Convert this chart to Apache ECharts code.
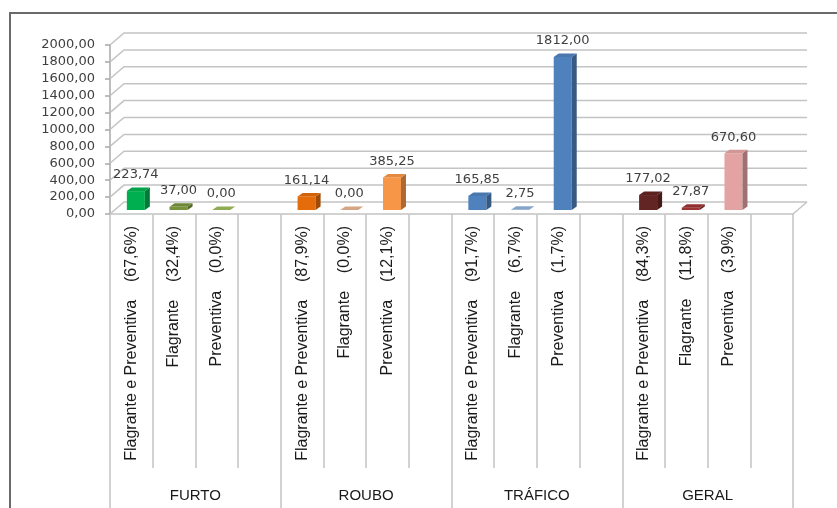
<!DOCTYPE html>
<html>
<head>
<meta charset="utf-8">
<script src="https://cdn.jsdelivr.net/npm/echarts@6/dist/echarts.min.js"></script>
<style>
  html, body { margin: 0; padding: 0; background: #fff; }
  #chart { width: 837px; height: 508px; }
</style>
</head>
<body>
<div id="chart"></div>
<script>
// Crime groups and the three detention types in each (fourth slot is a spacer)
const groups = ['FURTO', 'ROUBO', 'TRÁFICO', 'GERAL'];
const categories = [
  'Flagrante e Preventiva    (67,6%)', 'Flagrante    (32,4%)', 'Preventiva    (0,0%)', '',
  'Flagrante e Preventiva    (87,9%)', 'Flagrante    (0,0%)', 'Preventiva    (12,1%)', '',
  'Flagrante e Preventiva    (91,7%)', 'Flagrante    (6,7%)', 'Preventiva    (1,7%)', '',
  'Flagrante e Preventiva    (84,3%)', 'Flagrante    (11,8%)', 'Preventiva    (3,9%)', ''
];
const furto   = [223.74, 37.00, 0.00];
const roubo   = [161.14, 0.00, 385.25];
const trafico = [165.85, 2.75, 1812.00];
const geral   = [177.02, 27.87, 670.60];
const yTicks  = [0, 200, 400, 600, 800, 1000, 1200, 1400, 1600, 1800, 2000];

// Fill colours, one per bar (group order, then type order)
const barColors = [
  '#00b050', '#77933c', '#9bbb59',
  '#e46c0a', '#e8b48e', '#f79646',
  '#4f81bd', '#8fb2dc', '#4f81bd',
  '#632523', '#9b3432', '#e3a3a2'
];

const groupValues = [furto, roubo, trafico, geral];
const barData = [];
groupValues.forEach((vals, g) => {
  vals.forEach((v, k) => barData.push([g * 4 + k, v, g * 3 + k]));
});

const fmt = v => v.toFixed(2).replace('.', ',');

function shade(hex, amt) {
  const n = parseInt(hex.slice(1), 16);
  let r = (n >> 16) & 255, g = (n >> 8) & 255, b = n & 255;
  const f = c => amt < 0 ? Math.round(c * (1 + amt)) : Math.round(c + (255 - c) * amt);
  return 'rgb(' + f(r) + ',' + f(g) + ',' + f(b) + ')';
}

// Depth of the back wall relative to the front plane
const WALL_DX = 14, WALL_DY = -12;
const GRID_COLOR = '#c4c4c4';

function renderWall(params, api) {
  const v = api.value(1);
  const cs = params.coordSys;
  const y = api.coord([0, v])[1];
  const x0 = cs.x, x1 = cs.x + cs.width;
  const children = [{
    type: 'polyline',
    shape: { points: [[x0, y], [x0 + WALL_DX, y + WALL_DY], [x1 + WALL_DX, y + WALL_DY]] },
    style: { stroke: GRID_COLOR, lineWidth: 1.5, fill: null }
  }];
  if (v === 0) {
    children.push({
      type: 'line',
      shape: { x1: x1, y1: y, x2: x1 + WALL_DX, y2: y + WALL_DY },
      style: { stroke: GRID_COLOR, lineWidth: 1.5 }
    });
  }
  return { type: 'group', children: children };
}

// 3D-looking column: front face, right side and top
function renderBar(params, api) {
  const idx = api.value(0), val = api.value(1), ci = api.value(2);
  const top = api.coord([idx, val]);
  const base = api.coord([idx, 0]);
  const w = 18, sx = 4.5, sy = -4, dx = 5, dy = -3.5;
  const x = top[0] + sx - w / 2;
  const yT = top[1] + sy, yB = base[1] + sy;
  const c = barColors[ci];
  return {
    type: 'group',
    children: [
      { type: 'polygon', shape: { points: [[x, yT], [x + w, yT], [x + w, yB], [x, yB]] }, style: { fill: c } },
      { type: 'polygon', shape: { points: [[x + w, yT], [x + w + dx, yT + dy], [x + w + dx, yB + dy], [x + w, yB]] }, style: { fill: shade(c, -0.3) } },
      { type: 'polygon', shape: { points: [[x, yT], [x + dx, yT + dy], [x + w + dx, yT + dy], [x + w, yT]] }, style: { fill: shade(c, -0.08) } },
      {
        type: 'text',
        style: {
          text: fmt(val), x: top[0] + sx, y: yT - 16,
          align: 'center', verticalAlign: 'middle',
          font: '13px "DejaVu Sans"', fill: '#404040'
        }
      }
    ]
  };
}

const LABEL_FONT = '"Liberation Sans", Arial, sans-serif';

const chart = echarts.init(document.getElementById('chart'), null, { renderer: 'canvas' });
chart.setOption({
  animation: false,
  backgroundColor: '#fff',
  graphic: [{
    type: 'rect',
    shape: { x: 10, y: 13, width: 900, height: 600 },
    style: { fill: null, stroke: '#6a6a6a', lineWidth: 2 },
    z: 100
  }],
  grid: { left: 110, top: 45, width: 683, height: 169, containLabel: false },
  xAxis: [{
    type: 'category',
    data: categories,
    position: 'bottom',
    axisLine: { show: true, lineStyle: { color: GRID_COLOR, width: 1.5 } },
    axisTick: { show: true, interval: 0, length: 254, lineStyle: { color: GRID_COLOR, width: 1.5 } },
    axisLabel: {
      interval: 0, rotate: 90, margin: 12,
      fontFamily: LABEL_FONT, fontSize: 16, color: '#1a1a1a'
    },
    splitLine: { show: false }
  }, {
    type: 'category',
    data: groups,
    position: 'bottom',
    axisLine: { show: false },
    axisTick: { show: true, interval: 0, length: 320, lineStyle: { color: GRID_COLOR, width: 1.5 } },
    axisLabel: {
      interval: 0, margin: 274,
      fontFamily: LABEL_FONT, fontSize: 15, color: '#1a1a1a'
    },
    splitLine: { show: false }
  }],
  yAxis: {
    type: 'value',
    min: 0, max: 2000, interval: 200,
    axisLine: { show: true, lineStyle: { color: '#a8a8a8', width: 1.5 } },
    axisTick: { show: true, length: 5, lineStyle: { color: '#a8a8a8', width: 1.5 } },
    axisLabel: {
      margin: 15, formatter: v => fmt(v),
      fontFamily: '"DejaVu Sans", sans-serif', fontSize: 13, color: '#404040'
    },
    splitLine: { show: false }
  },
  series: [{
    type: 'custom',
    name: 'wall',
    xAxisIndex: 0,
    clip: false,
    silent: true,
    z: 1,
    renderItem: renderWall,
    data: yTicks.map(v => [0, v]),
    encode: { x: 0, y: 1 }
  }, {
    type: 'custom',
    name: 'bars',
    xAxisIndex: 0,
    clip: false,
    z: 5,
    renderItem: renderBar,
    data: barData,
    encode: { x: 0, y: 1 }
  }]
});
</script>
</body>
</html>
